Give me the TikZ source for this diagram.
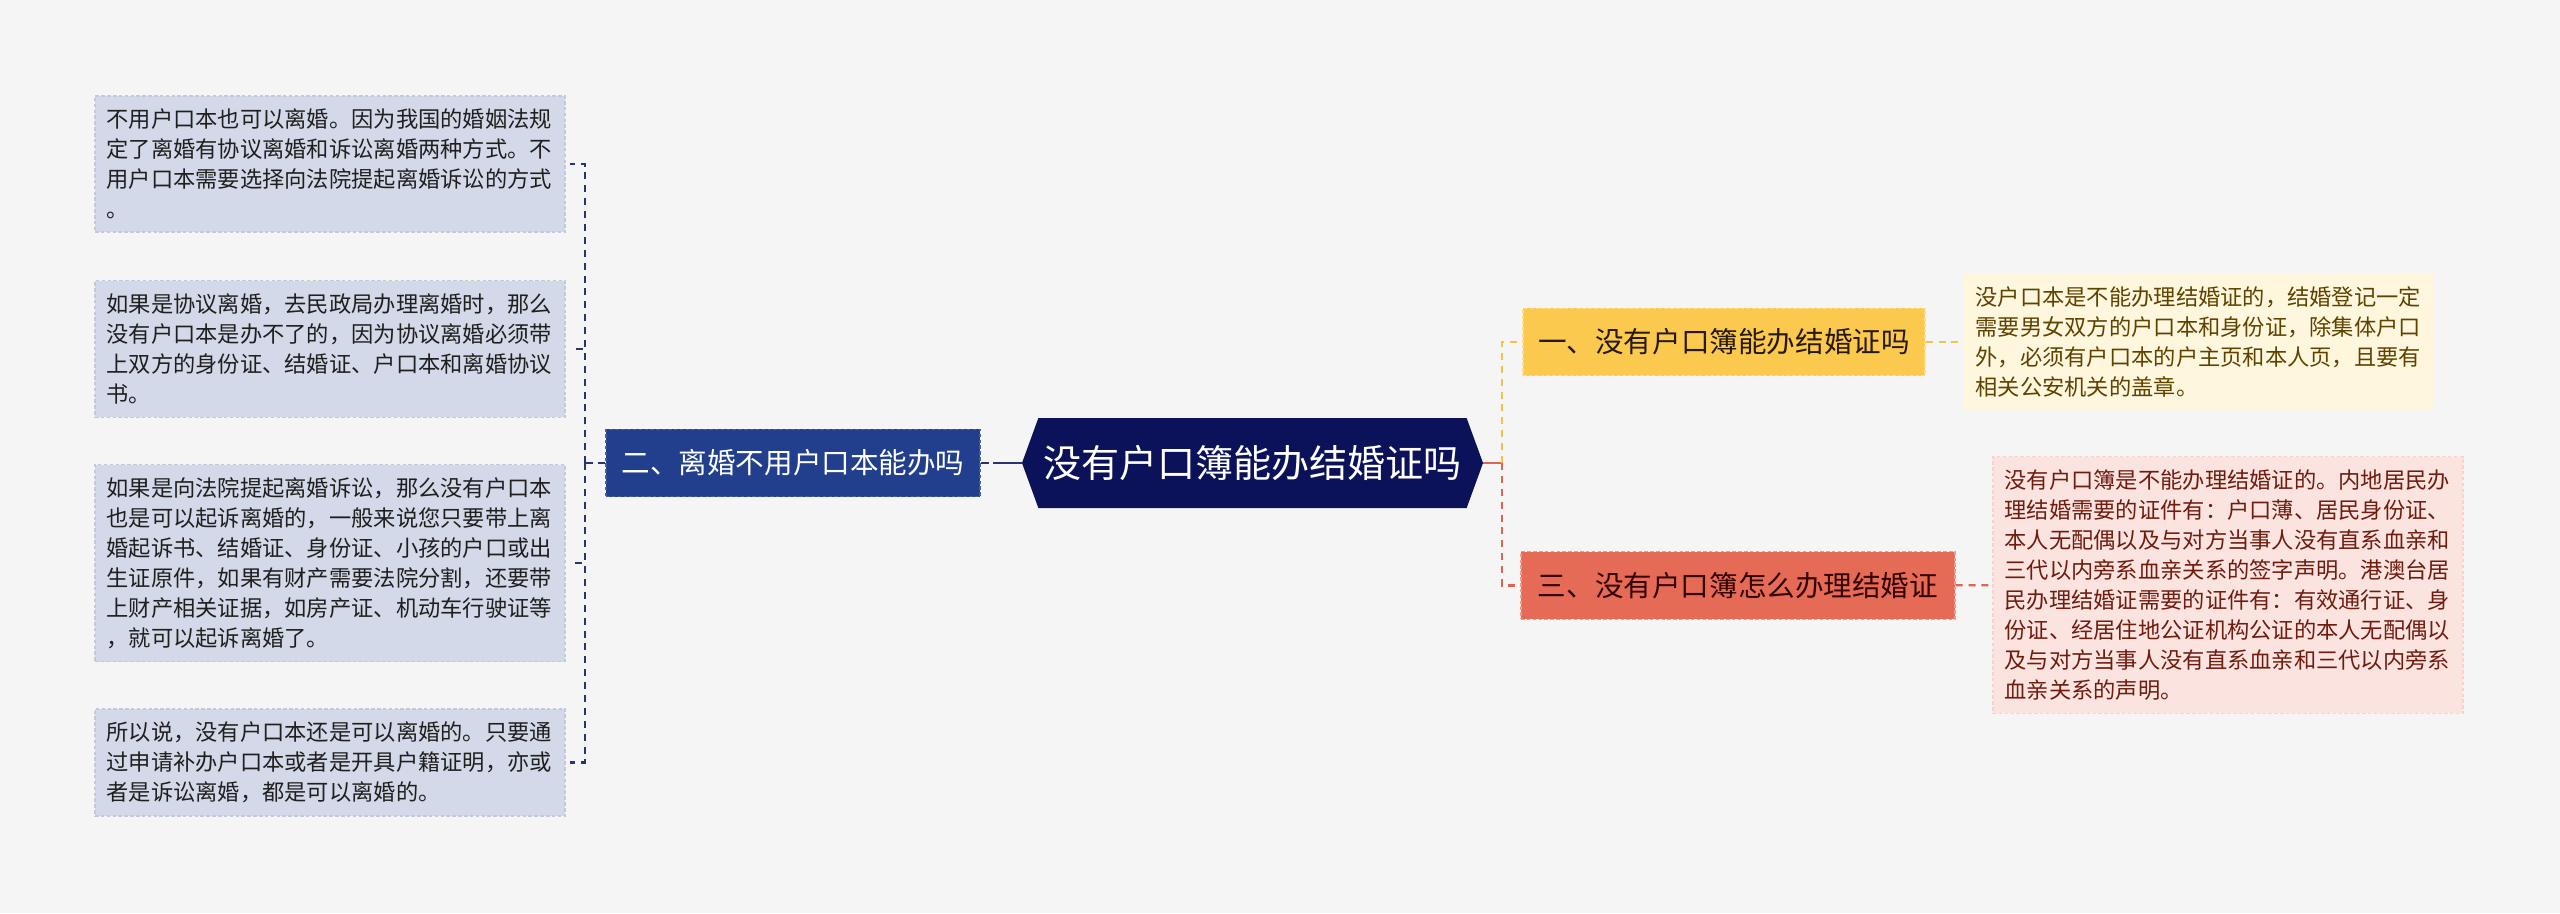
\documentclass[tikz,border=0pt]{standalone}
\usepackage{fontspec}
\usepackage{xcolor}
\usepackage{tikz}
\usetikzlibrary{shapes.symbols, calc}
\newfontfamily\cjk{Noto Sans CJK SC}
\definecolor{canvas}{HTML}{F5F5F5}
\definecolor{navy}{HTML}{0B1259}
\definecolor{royal}{HTML}{213F8D}
\definecolor{royalline}{HTML}{4A5E9E}
\definecolor{lavender}{HTML}{D3D9E8}
\definecolor{lavline}{HTML}{C2C9DD}
\definecolor{navyline}{HTML}{2A3472}
\definecolor{sun}{HTML}{FBC94E}
\definecolor{sunline}{HTML}{F4C04F}
\definecolor{sunedge}{HTML}{FFDC85}
\definecolor{cream}{HTML}{FEF6DD}
\definecolor{brownink}{HTML}{5E4300}
\definecolor{coral}{HTML}{E56B57}
\definecolor{coraledge}{HTML}{F19A89}
\definecolor{coralline}{HTML}{DF6452}
\definecolor{blush}{HTML}{FBE4DF}
\definecolor{rustink}{HTML}{6E1C10}

\begin{document}
\begin{tikzpicture}[x=0.03cm, y=-0.03cm,
    % 1. base text boxes
    leaf/.style={
        fill=lavender, draw=lavline, line width=1pt, dash pattern=on 3pt off 2pt,
        text width=13.4cm, inner xsep=0.35cm, inner ysep=11pt, align=left,
        font=\cjk\fontsize{19pt}{25.6pt}\selectfont, text=black!88
    },
    note/.style={leaf, draw=#1!60, fill=#1},
    % 2. branch titles
    branch/.style={
        line width=1pt, dash pattern=on 3pt off 2pt, inner sep=0pt,
        minimum height=2.02cm, align=center,
        font=\cjk\fontsize{24.4pt}{28pt}\selectfont
    },
    root/.style={
        shape=signal, signal to=east and west, signal pointer angle=140,
        fill=navy, text=white, inner sep=0pt,
        minimum width=13.83cm, minimum height=2.7cm,
        font=\cjk\fontsize{32.5pt}{36pt}\selectfont
    },
    % 3. connectors
    navylink/.style={draw=navyline, line width=2pt, dash pattern=on 6pt off 5pt},
    sunlink/.style={draw=sunline, line width=2pt, dash pattern=on 6pt off 5pt},
    corallink/.style={draw=coralline, line width=2pt, dash pattern=on 6pt off 5pt}
]
    \fill[canvas] (0,0) rectangle (2560,913);
    \useasboundingbox (0,0) rectangle (2560,913);

    % --- ROOT ---
    \node[root] (root) at (1252.5,463) {没有户口簿能办结婚证吗};

    % --- LEFT ---
    \node[branch, fill=royal, draw=royalline, text=white, minimum width=11.22cm] (two) at (793,463) {二、离婚不用户口本能办吗};

    \node[leaf] (l1) at (330,164) {不用户口本也可以离婚。因为我国的婚姻法规\\定了离婚有协议离婚和诉讼离婚两种方式。不\\用户口本需要选择向法院提起离婚诉讼的方式\\。};
    \node[leaf] (l2) at (330,349) {如果是协议离婚，去民政局办理离婚时，那么\\没有户口本是办不了的，因为协议离婚必须带\\上双方的身份证、结婚证、户口本和离婚协议\\书。};
    \node[leaf] (l3) at (330,563) {如果是向法院提起离婚诉讼，那么没有户口本\\也是可以起诉离婚的，一般来说您只要带上离\\婚起诉书、结婚证、身份证、小孩的户口或出\\生证原件，如果有财产需要法院分割，还要带\\上财产相关证据，如房产证、机动车行驶证等\\，就可以起诉离婚了。};
    \node[leaf] (l4) at (330,762.5) {所以说，没有户口本还是可以离婚的。只要通\\过申请补办户口本或者是开具户籍证明，亦或\\者是诉讼离婚，都是可以离婚的。};

    \coordinate (lj) at (585,463);
    \draw[navylink, dash pattern=on 7pt off 4pt on 40pt off 0pt] (two.east) -- (root.west);
    \draw[navylink] (two.west) -- (lj);
    \foreach \n in {l1,l2,l3,l4}
        \draw[navylink, shorten >=4pt] (lj) |- (\n.east);

    % --- RIGHT ---
    \node[branch, fill=sun, draw=sunedge, text=black!80!brown, minimum width=12.06cm] (one) at (1724,342) {一、没有户口簿能办结婚证吗};
    \node[branch, fill=coral, draw=coraledge, text=black!80!red, minimum width=13.02cm] (three) at (1738,585.5) {三、没有户口簿怎么办理结婚证};

    \node[note=cream, draw=none, text=brownink] (d1) at (2199,342) {没户口本是不能办理结婚证的，结婚登记一定\\需要男女双方的户口本和身份证，除集体户口\\外，必须有户口本的户主页和本人页，且要有\\相关公安机关的盖章。};
    \node[note=blush, draw=blush!85!coral, text=rustink] (d3) at (2228,585) {没有户口簿是不能办理结婚证的。内地居民办\\理结婚需要的证件有：户口薄、居民身份证、\\本人无配偶以及与对方当事人没有直系血亲和\\三代以内旁系血亲关系的签字声明。港澳台居\\民办理结婚证需要的证件有：有效通行证、身\\份证、经居住地公证机构公证的本人无配偶以\\及与对方当事人没有直系血亲和三代以内旁系\\血亲关系的声明。};

    \coordinate (rj) at (1502,463);
    \draw[draw=coralline, line width=2pt] (root.east) -- (rj);
    \draw[sunlink, shorten >=5pt] (rj) |- (one.west);
    \draw[corallink, shorten >=5pt] (rj) |- (three.west);
    \draw[sunlink] (one) -- (d1);
    \draw[corallink] (three) -- (d3);

\end{tikzpicture}
\end{document}
